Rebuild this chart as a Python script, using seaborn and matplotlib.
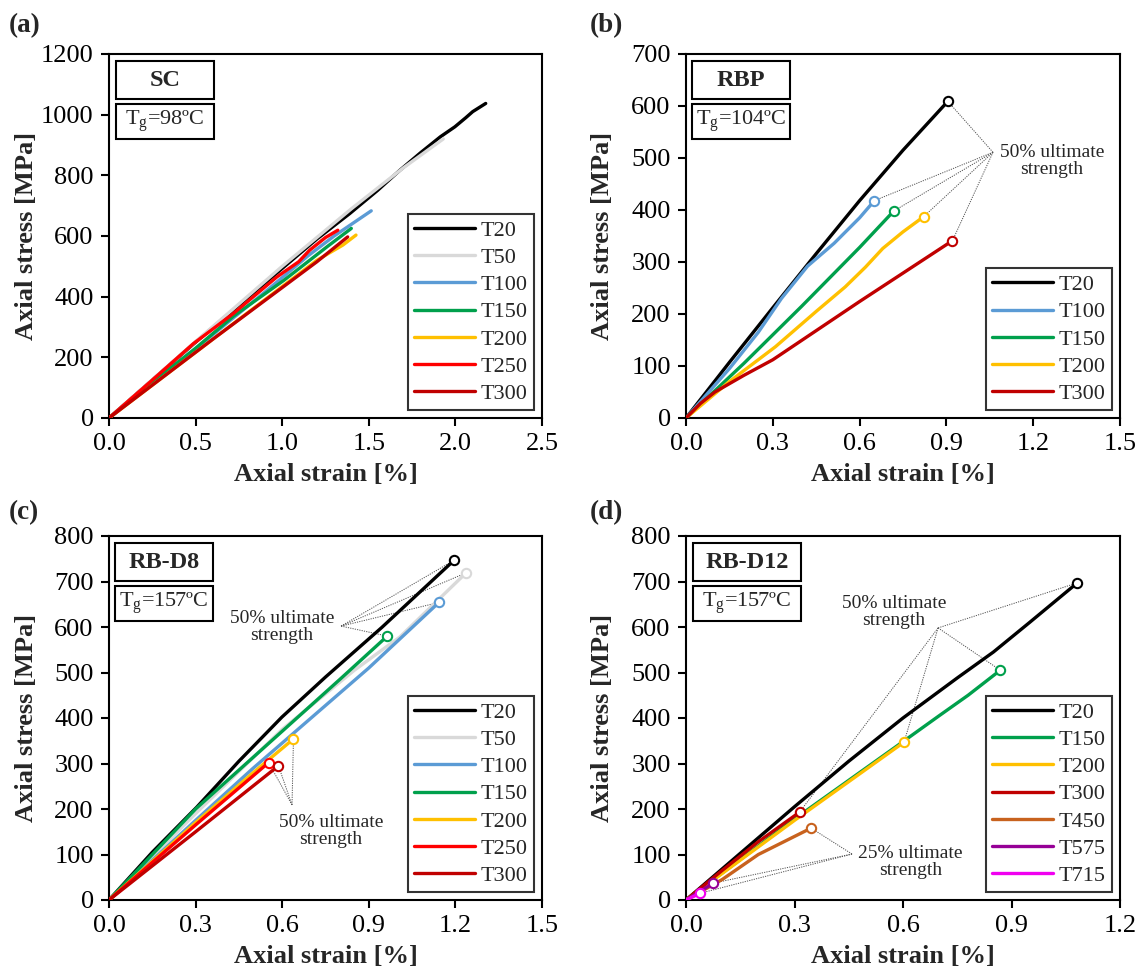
import numpy as np
import pandas as pd
import matplotlib
matplotlib.use("Agg")
import matplotlib.pyplot as plt
from matplotlib.patches import Rectangle
import seaborn as sns

# ---------------- data ----------------
# (a) SC
SC_series = ["T20", "T50", "T100", "T150", "T200", "T250", "T300"]
SC_T20_x = [0, 0.25, 0.5, 0.75, 1.01, 1.2, 1.39, 1.55, 1.68, 1.8, 1.913, 1.997, 2.06, 2.1, 2.175]
SC_T20_y = [0, 125, 250, 372, 498, 590, 674, 750, 817, 875, 927, 960, 990, 1010, 1037]
SC_T50_x = [0, 0.5, 1.0, 1.4, 1.7, 1.93]
SC_T50_y = [0, 252, 500, 690, 825, 920]
SC_T100_x = [0, 0.3, 0.6, 0.9, 1.15, 1.3, 1.514]
SC_T100_y = [0, 135, 275, 415, 535, 600, 683]
SC_T150_x = [0, 0.3, 0.5, 0.717, 1.01, 1.26, 1.399]
SC_T150_y = [0, 140, 230, 335, 454, 565, 625]
SC_T200_x = [0, 0.3, 0.6, 0.9, 1.2, 1.35, 1.426]
SC_T200_y = [0, 130, 260, 390, 520, 570, 603]
SC_T250_x = [0, 0.25, 0.487, 0.717, 0.969, 1.095, 1.158, 1.25, 1.321]
SC_T250_y = [0, 125, 245, 344, 465, 515, 553, 595, 619]
SC_T300_x = [0, 0.3, 0.6, 0.8, 1.0, 1.2, 1.378]
SC_T300_y = [0, 130, 260, 345, 430, 515, 597]

# (b) RBP
RBP_series = ["T20", "T100", "T150", "T200", "T300"]
RBP_T20_x = [0, 0.15, 0.3, 0.45, 0.6, 0.75, 0.905]
RBP_T20_y = [0, 107, 212, 316, 418, 515, 609]
RBP_T100_x = [0, 0.15, 0.25, 0.33, 0.42, 0.512, 0.6, 0.651]
RBP_T100_y = [0, 95, 165, 230, 292, 336, 385, 418]
RBP_T150_x = [0, 0.2, 0.4, 0.6, 0.718]
RBP_T150_y = [0, 105, 215, 328, 398]
RBP_T200_x = [0, 0.15, 0.309, 0.45, 0.55, 0.62, 0.68, 0.75, 0.821]
RBP_T200_y = [0, 70, 137, 205, 252, 290, 326, 358, 387]
RBP_T300_x = [0, 0.05, 0.1, 0.2, 0.3, 0.45, 0.6, 0.921]
RBP_T300_y = [0, 28, 50, 82, 112, 168, 224, 341]

# (c) RB-D8
D8_series = ["T20", "T50", "T100", "T150", "T200", "T250", "T300"]
D8_T20_x = [0, 0.15, 0.304, 0.45, 0.599, 0.75, 0.945, 1.196]
D8_T20_y = [0, 105, 204, 305, 402, 490, 599, 747]
D8_T50_x = [0, 0.3, 0.6, 0.85, 1.0075, 1.237]
D8_T50_y = [0, 190, 375, 505, 578, 719]
D8_T100_x = [0, 0.3, 0.5, 0.7, 0.9, 1.143]
D8_T100_y = [0, 175, 290, 400, 510, 654]
D8_T150_x = [0, 0.3, 0.63, 0.8, 0.964]
D8_T150_y = [0, 200, 388, 485, 580]
D8_T200_x = [0, 0.3, 0.5, 0.639]
D8_T200_y = [0, 170, 280, 354]
D8_T250_x = [0, 0.3, 0.553]
D8_T250_y = [0, 165, 302]
D8_T300_x = [0, 0.3, 0.587]
D8_T300_y = [0, 150, 295]

# (d) RB-D12
D12_series = ["T20", "T150", "T200", "T300", "T450", "T575", "T715"]
D12_T20_x = [0, 0.3, 0.45, 0.6, 0.75, 0.85, 0.95, 1.082]
D12_T20_y = [0, 205, 305, 400, 488, 545, 610, 697]
D12_T150_x = [0, 0.3, 0.6, 0.7, 0.78, 0.869]
D12_T150_y = [0, 178, 348, 405, 450, 505]
D12_T200_x = [0, 0.3, 0.603]
D12_T200_y = [0, 175, 347]
D12_T300_x = [0, 0.1, 0.2, 0.314]
D12_T300_y = [0, 65, 128, 193]
D12_T450_x = [0, 0.1, 0.2, 0.346]
D12_T450_y = [0, 45, 100, 158]
D12_T575_x = [0, 0.075]
D12_T575_y = [0, 37]
D12_T715_x = [0, 0.04]
D12_T715_y = [0, 15]

colors = {"T20": "#000000", "T50": "#D9D9D9", "T100": "#5B9BD5", "T150": "#00A04C",
          "T200": "#FFC000", "T250": "#FF0000", "T300": "#C00000", "T450": "#C8621E",
          "T575": "#960096", "T715": "#F000F0"}

# ---------------- style ----------------
sns.set_style("ticks")
plt.rcParams["font.family"] = ["Liberation Serif", "DejaVu Serif"]
plt.rcParams["mathtext.fontset"] = "custom"
plt.rcParams["mathtext.rm"] = "Liberation Serif"
plt.rcParams["mathtext.it"] = "Liberation Serif:italic"
plt.rcParams["axes.linewidth"] = 1.5
plt.rcParams["axes.edgecolor"] = "black"

fig = plt.figure(figsize=(11.45, 9.76), dpi=100)
W, H = 1145, 976


def add_axes(l, t, r, b):
    return fig.add_axes([l / W, 1 - b / H, (r - l) / W, (b - t) / H])


ax_a = add_axes(109, 54, 542, 418)
ax_b = add_axes(686, 54, 1120, 418)
ax_c = add_axes(109, 536, 542, 900)
ax_d = add_axes(686, 536, 1120, 900)

TICK_FS = 19
LAB_FS = 19


def setup(ax, xmax, xstep, ymax, ystep):
    ax.set_xlim(0, xmax)
    ax.set_ylim(0, ymax)
    ax.set_xticks(np.round(np.arange(0, xmax + 1e-9, xstep), 2))
    ax.set_yticks(np.arange(0, ymax + 1, ystep))
    ax.xaxis.set_major_formatter(matplotlib.ticker.FormatStrFormatter("%.1f"))
    ax.tick_params(direction="out", length=6, width=1.5, labelsize=TICK_FS, pad=5,
                   colors="black", top=False, right=False)
    for s in ax.spines.values():
        s.set_visible(True)
        s.set_linewidth(1.5)
        s.set_color("black")
    ax.set_xlabel("Axial strain [%]", fontsize=LAB_FS, fontweight="bold")
    ax.set_ylabel("Axial stress [MPa]", fontsize=LAB_FS, fontweight="bold")
    ax.xaxis.set_label_coords(0.5, -0.125)
    ax.yaxis.set_label_coords(-0.165, 0.5)


def draw(ax, prefix, series, markers):
    handles = []
    g = globals()
    for name in series:
        xs = g[f"{prefix}_{name}_x"]
        ys = g[f"{prefix}_{name}_y"]
        df = pd.DataFrame({"strain": xs, "stress": ys})
        sns.lineplot(data=df, x="strain", y="stress", ax=ax, color=colors[name],
                     linewidth=2.4, sort=False, estimator=None, zorder=3)
        line = ax.lines[-1]
        line.set_label(name)
        line.set_solid_joinstyle("round")
        handles.append(line)
        if markers:
            sns.scatterplot(x=[xs[-1]], y=[ys[-1]], ax=ax, facecolor="white",
                            edgecolor=colors[name], s=45, linewidth=1.5, zorder=5,
                            legend=False)
    leg = ax.legend(handles=handles, loc="lower right", fontsize=16,
                    handlelength=2.75, handletextpad=0.25, borderpad=0.28,
                    labelspacing=0.3, frameon=True, fancybox=False,
                    borderaxespad=0.35)
    leg.get_frame().set_edgecolor("black")
    leg.get_frame().set_linewidth(1.5)
    leg.set_zorder(10)


def boxes(ax, title, tg, x0, x1):
    ax.add_patch(Rectangle((x0, 0.876), x1 - x0, 0.981 - 0.876, transform=ax.transAxes,
                           facecolor="white", edgecolor="black", lw=1.5, zorder=8))
    ax.add_patch(Rectangle((x0, 0.767), x1 - x0, 0.864 - 0.767, transform=ax.transAxes,
                           facecolor="white", edgecolor="black", lw=1.5, zorder=8))
    ax.text((x0 + x1) / 2, 0.928, title, transform=ax.transAxes, ha="center",
            va="center", fontsize=17.5, fontweight="bold", zorder=9)
    ax.text((x0 + x1) / 2, 0.815, tg, transform=ax.transAxes, ha="center",
            va="center", fontsize=16, zorder=9)


def annotate(ax, text, txy, cxy, prefix, targets):
    g = globals()
    for name in targets:
        ex = g[f"{prefix}_{name}_x"][-1]
        ey = g[f"{prefix}_{name}_y"][-1]
        ax.plot([cxy[0], ex], [cxy[1], ey], color="#505050", lw=0.7,
                ls=(0, (1.2, 1.2)), zorder=2)
    ax.text(txy[0], txy[1], text, ha="center", va="center", fontsize=14,
            linespacing=1.0, zorder=6)


# (a)
draw(ax_a, "SC", SC_series, markers=False)
setup(ax_a, 2.5, 0.5, 1200, 200)
boxes(ax_a, "SC", r"T$_{\mathrm{g}}$=98ºC", 0.016, 0.242)

# (b)
draw(ax_b, "RBP", RBP_series, markers=True)
setup(ax_b, 1.5, 0.3, 700, 100)
boxes(ax_b, "RBP", r"T$_{\mathrm{g}}$=104ºC", 0.014, 0.240)
annotate(ax_b, "50% ultimate\nstrength", (1.265, 494), (1.061, 511), "RBP", RBP_series)

# (c)
draw(ax_c, "D8", D8_series, markers=True)
setup(ax_c, 1.5, 0.3, 800, 100)
boxes(ax_c, "RB-D8", r"T$_{\mathrm{g}}$=157ºC", 0.014, 0.240)
annotate(ax_c, "50% ultimate\nstrength", (0.599, 599), (0.804, 602), "D8",
         ["T20", "T50", "T100", "T150"])
annotate(ax_c, "50% ultimate\nstrength", (0.769, 152), (0.634, 209), "D8",
         ["T200", "T250", "T300"])

# (d)
draw(ax_d, "D12", D12_series, markers=True)
setup(ax_d, 1.2, 0.3, 800, 100)
boxes(ax_d, "RB-D12", r"T$_{\mathrm{g}}$=157ºC", 0.016, 0.265)
annotate(ax_d, "50% ultimate\nstrength", (0.575, 632), (0.697, 598), "D12",
         ["T20", "T150", "T200", "T300"])
annotate(ax_d, "25% ultimate\nstrength", (0.621, 84), (0.459, 101), "D12",
         ["T450", "T575", "T715"])

for lbl, (px, py) in {"(a)": (9, 26), "(b)": (590, 26), "(c)": (9, 513), "(d)": (590, 513)}.items():
    fig.text(px / W, 1 - py / H, lbl, ha="left", va="center", fontsize=19.5,
             fontweight="bold")

fig.savefig("out.png", dpi=100)
